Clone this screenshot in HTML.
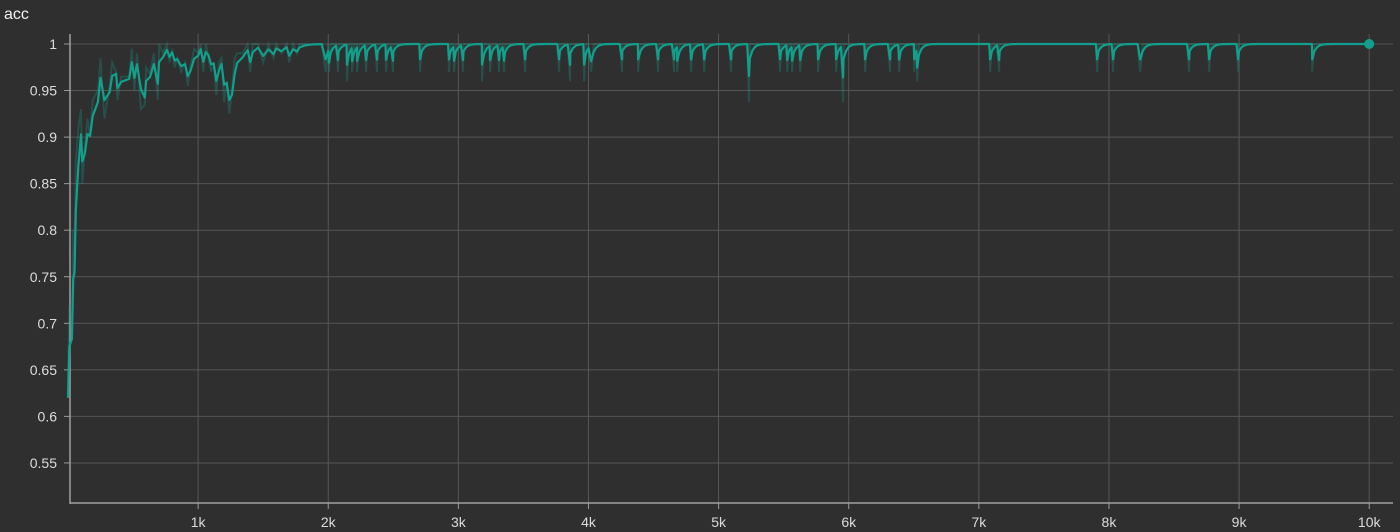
<!DOCTYPE html>
<html><head><meta charset="utf-8"><style>
html,body{margin:0;padding:0;background:#2f2f2f;width:1400px;height:532px;overflow:hidden}
svg{display:block;font-family:"Liberation Sans",sans-serif}
</style></head><body>
<svg id="chart" width="1400" height="532" viewBox="0 0 1400 532">
<rect x="0" y="0" width="1400" height="532" fill="#2f2f2f"/>
<text x="4" y="19" fill="#f2f2f2" font-size="16">acc</text>
<g id="grid"></g>
<g id="axes"></g>
<g id="series"></g>
</svg>
<script>
// early raw values (step, value)
const earlySteps = [0,10,30,40,50,60,80,100,110,130,150,170,190,230,250,280,320,340,370,380,410,470,490,510,530,560,590,600,630,660,690,700,730,760,780,800,820,840,870,900,920,940,970,1000,1020,1040,1060,1080,1100,1120,1140,1160,1180,1200,1220,1240,1260,1280,1300,1340,1380,1400,1420,1460,1500,1540,1580,1600,1640,1680,1700,1730,1760,1780,1820,1860,1900,1950,1980];
const earlyVals  = [0.62,0.72,0.69,0.8,0.76,0.875,0.91,0.93,0.85,0.89,0.92,0.9,0.94,0.95,0.985,0.92,0.955,0.98,0.97,0.94,0.965,0.965,0.995,0.95,0.99,0.93,0.935,0.975,0.968,0.99,0.94,1.0,0.99,1.0,0.98,0.995,0.975,0.985,0.97,0.98,0.955,0.975,0.995,0.99,1.0,0.97,1.0,0.985,0.97,0.98,0.945,0.98,0.985,0.9375,0.96,0.925,0.95,0.985,0.99,0.99,1.0,0.97,1.0,1.0,0.98,1.0,0.985,1.0,0.99,1.0,0.98,1.0,0.99,1.0,1.0,1.0,1.0,1.0,0.97];
// later dips: step and raw value (all other logged points are 1.0)
const dipSteps = [2006,2075,2144,2183,2221,2291,2375,2444,2498,2706,2928,2967,3036,3182,3244,3313,3351,3513,3774,3859,3966,4020,4258,4381,4535,4658,4681,4789,4889,5096,5234,5473,5527,5565,5627,5765,5903,5957,6126,6318,6387,6503,6526,7087,7156,7909,8032,8240,8616,8770,8993,9562];
const dipVals  = [0.97,0.97,0.96,0.97,0.97,0.97,0.97,0.97,0.97,0.97,0.97,0.97,0.97,0.96,0.97,0.97,0.97,0.97,0.97,0.96,0.96,0.97,0.97,0.97,0.97,0.97,0.97,0.97,0.97,0.97,0.9375,0.97,0.97,0.97,0.97,0.97,0.97,0.9375,0.97,0.97,0.97,0.97,0.96,0.97,0.97,0.97,0.97,0.97,0.97,0.97,0.97,0.97];
const lastStep = 10000;
const yTicks = [1,0.95,0.9,0.85,0.8,0.75,0.7,0.65,0.6,0.55];
const yLabels = ["1","0.95","0.9","0.85","0.8","0.75","0.7","0.65","0.6","0.55"];
const xTicks = [1000,2000,3000,4000,5000,6000,7000,8000,9000,10000];
const xLabels = ["1k","2k","3k","4k","5k","6k","7k","8k","9k","10k"];

const NS="http://www.w3.org/2000/svg";
const L=70,R=1393,T=34,B=503;
const x=v=>68+v*0.13012;
const y=v=>44+(1-v)*931;
function mk(tag,attrs,parent){const e=document.createElementNS(NS,tag);for(const k in attrs)e.setAttribute(k,attrs[k]);parent.appendChild(e);return e;}
const grid=document.getElementById('grid'),axes=document.getElementById('axes'),series=document.getElementById('series');

yTicks.forEach((t,i)=>{
  const g=mk('line',{x1:L,x2:R,y1:y(t),y2:y(t),stroke:'#565656','stroke-width':1},grid);
  
  
  const tk=mk('line',{x1:L-6,x2:L,y1:y(t),y2:y(t),stroke:'#9a9a9a','stroke-width':1},axes);
  
  
  const tx=mk('text',{x:57,y:y(t)+5,'text-anchor':'end',fill:'#dcdcdc','font-size':14},axes);
  tx.textContent=yLabels[i];
  
  
});
xTicks.forEach((t,i)=>{
  const g=mk('line',{x1:x(t),x2:x(t),y1:T,y2:B,stroke:'#565656','stroke-width':1},grid);
  
  
  const tk=mk('line',{x1:x(t),x2:x(t),y1:B,y2:B+6,stroke:'#9a9a9a','stroke-width':1},axes);
  
  
  const tx=mk('text',{x:x(t),y:527,'text-anchor':'middle',fill:'#dcdcdc','font-size':14},axes);
  tx.textContent=xLabels[i];
  
  
});
const ya=mk('line',{x1:L,x2:L,y1:T,y2:B+1,stroke:'#a0a0a0','stroke-width':1.5},axes);


const xa=mk('line',{x1:L,x2:R,y1:B,y2:B,stroke:'#a0a0a0','stroke-width':1.5},axes);



// build raw series
const steps=[],vals=[];
earlySteps.forEach((s,i)=>{steps.push(s);vals.push(earlyVals[i]);});
let s=2000;
let di=0;
while(s<=lastStep){
  while(di<dipSteps.length && dipSteps[di]<=s){ if(dipSteps[di]>steps[steps.length-1]){steps.push(dipSteps[di]);vals.push(dipVals[di]);} di++; }
  if(s>steps[steps.length-1]){steps.push(s);vals.push(1);}
  s+=20;
}
// EMA smoothing
const sm=[];let last=vals[0];
vals.forEach(v=>{last=last*0.45+v*0.55;sm.push(last);});
const pts=a=>a.map((v,i)=>x(steps[i]).toFixed(1)+','+y(v).toFixed(1)).join(' ');
const raw=mk('polyline',{points:pts(vals),fill:'none',stroke:'#14a08c','stroke-opacity':0.28,'stroke-width':2},series);


const smooth=mk('polyline',{points:pts(sm),fill:'none',stroke:'#12a08c','stroke-width':2.2,'stroke-linejoin':'round'},series);


const dot=mk('circle',{cx:x(steps[steps.length-1]),cy:y(sm[sm.length-1]),r:5,fill:'#12a08c'},series);


</script>
</body></html>
